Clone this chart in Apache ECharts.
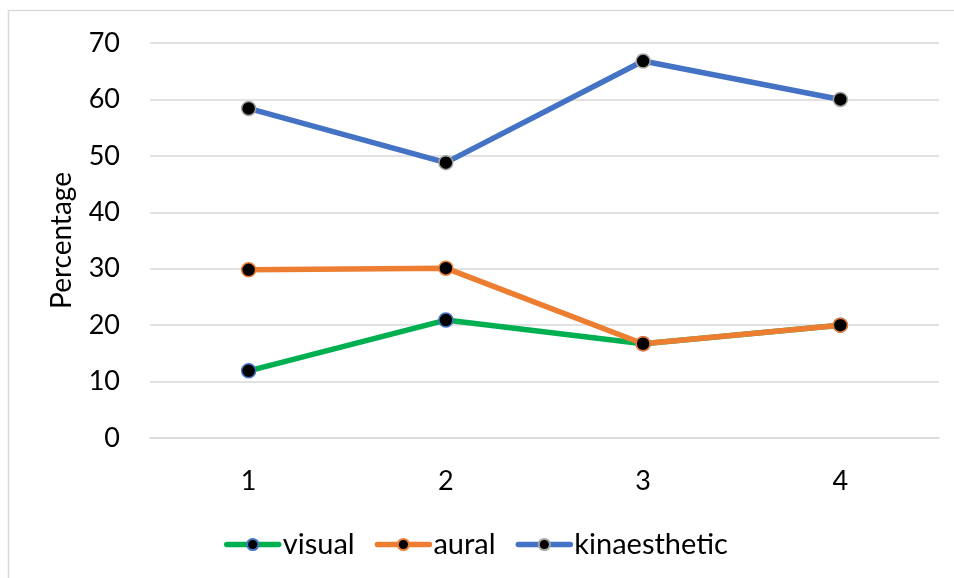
<!DOCTYPE html>
<html>
<head>
<meta charset="utf-8">
<script src="https://cdn.jsdelivr.net/npm/echarts@6/dist/echarts.min.js"></script>
<style>html,body{margin:0;padding:0;background:#fff}#c{width:954px;height:578px}</style>
</head>
<body>
<div id="c"></div>
<script>
const categories = ['1', '2', '3', '4'];
const visual = [11.9, 20.9, 16.7, 20.0];
const aural = [29.8, 30.1, 16.7, 20.0];
const kinaesthetic = [58.4, 48.8, 66.8, 60.0];
const yTicks = { min: 0, max: 70, interval: 10 };

const FONT = 'Lato, "Open Sans", sans-serif';
const chart = echarts.init(document.getElementById('c'), null, { renderer: 'canvas' });

function mk(name, data, lineColor, borderColor) {
  return {
    name, type: 'line', data,
    symbol: 'circle', symbolSize: 14,
    lineStyle: { color: lineColor, width: 5.5, cap: 'round' },
    itemStyle: { color: '#000', borderColor: borderColor, borderWidth: 1.5 },
    emphasis: { disabled: true },
    animation: false
  };
}

chart.setOption({
  animation: false,
  graphic: [{
    type: 'rect', shape: { x: 8.5, y: 10.5, width: 1000, height: 700 },
    style: { fill: 'none', stroke: '#d9d9d9', lineWidth: 1.5 }, silent: true, z: -10
  }],
  grid: { left: 150, right: 15, top: 43, bottom: 140, containLabel: false },
  xAxis: {
    type: 'category', data: categories, boundaryGap: true,
    axisLine: { show: true, lineStyle: { color: '#d9d9d9', width: 1.5 } },
    axisTick: { show: false },
    axisLabel: { color: '#000', fontSize: 27, fontFamily: FONT, margin: 30 },
    splitLine: { show: false }
  },
  yAxis: {
    type: 'value', min: yTicks.min, max: yTicks.max, interval: yTicks.interval,
    name: 'Percentage', nameLocation: 'middle', nameGap: 74, nameRotate: 90,
    nameTextStyle: { color: '#000', fontSize: 28, fontFamily: FONT },
    axisLine: { show: false }, axisTick: { show: false },
    axisLabel: { color: '#000', fontSize: 27, fontFamily: FONT, margin: 30 },
    splitLine: { lineStyle: { color: '#d9d9d9', width: 1.5 } }
  },
  legend: {
    bottom: 14, left: 219, itemWidth: 52, itemHeight: 14, itemGap: 20,
    lineStyle: { width: 5.5, cap: 'round' },
    textStyle: { color: '#000', fontSize: 29, fontFamily: FONT, padding: [0, 0, 0, -1] },
    data: ['visual', 'aural', 'kinaesthetic']
  },
  series: [
    mk('visual', visual, '#00B050', '#4472C4'),
    mk('aural', aural, '#ED7D31', '#ED7D31'),
    mk('kinaesthetic', kinaesthetic, '#4472C4', '#A5A5A5')
  ]
});
</script>
</body>
</html>
